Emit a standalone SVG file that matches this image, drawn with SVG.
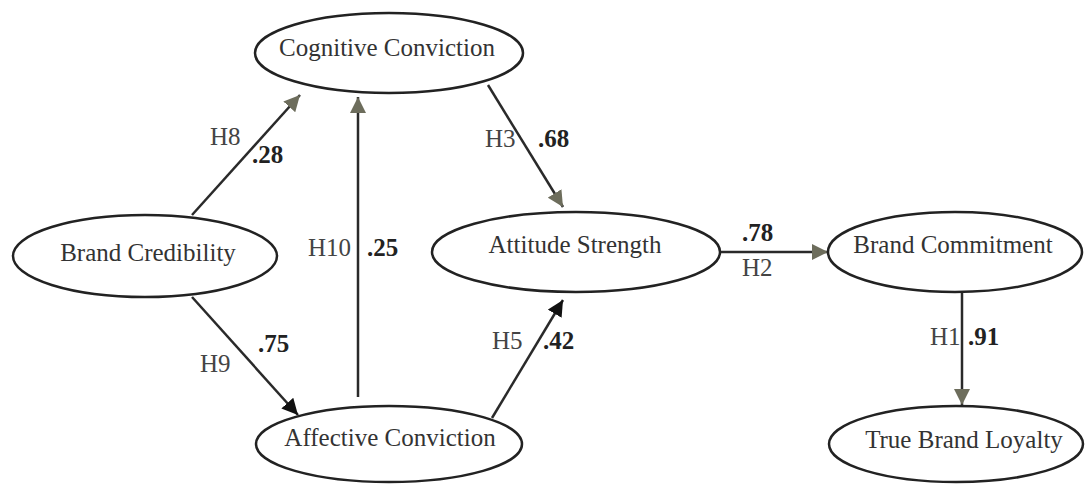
<svg xmlns="http://www.w3.org/2000/svg" width="1085" height="484" viewBox="0 0 1085 484">
<style>
.node ellipse{fill:#fff;stroke:#222;stroke-width:2.5}
.node text{font-family:"Liberation Serif","Times New Roman",serif;font-size:25px;fill:#333;text-anchor:middle}
.lbl{font-family:"Liberation Serif","Times New Roman",serif;font-size:25px;fill:#444}
.num{font-family:"Liberation Serif","Times New Roman",serif;font-size:25px;font-weight:bold;fill:#222}
.edge{stroke:#2a2a2a;stroke-width:2.5;fill:none}
.g{marker-end:url(#ag)}
.k{marker-end:url(#ak)}
</style>
<defs>
<marker id="ag" markerUnits="userSpaceOnUse" markerWidth="17" markerHeight="16" refX="16" refY="8" orient="auto">
<path d="M0,0 L16,8 L0,16 z" fill="#6d6d5c"/>
</marker>
<marker id="ak" markerUnits="userSpaceOnUse" markerWidth="17" markerHeight="16" refX="16" refY="8" orient="auto">
<path d="M0,0 L16,8 L0,16 z" fill="#111"/>
</marker>
</defs>
<rect width="1085" height="484" fill="#fff"/>
<g id="connectors">
<line class="edge g" x1="192" y1="215" x2="300" y2="95"/>
<line class="edge g" x1="358" y1="397" x2="358" y2="97"/>
<line class="edge g" x1="488" y1="85" x2="563" y2="207"/>
<line class="edge k" x1="192" y1="297" x2="298" y2="415"/>
<line class="edge k" x1="492" y1="418" x2="563" y2="300"/>
<line class="edge g" x1="720" y1="252" x2="828" y2="252"/>
<line class="edge g" x1="962" y1="292" x2="962" y2="405"/>
<text class="lbl" x="210" y="145">H8</text>
<text class="num" x="252" y="163">.28</text>
<text class="lbl" x="308" y="256">H10</text>
<text class="num" x="367" y="256">.25</text>
<text class="lbl" x="485" y="147">H3</text>
<text class="num" x="538" y="147">.68</text>
<text class="num" x="742" y="241">.78</text>
<text class="lbl" x="742" y="276">H2</text>
<text class="lbl" x="200" y="372">H9</text>
<text class="num" x="258" y="352">.75</text>
<text class="lbl" x="492" y="349">H5</text>
<text class="num" x="543" y="349">.42</text>
<text class="lbl" x="930" y="345">H1</text>
<text class="num" x="968" y="345">.91</text>
</g>
<g id="cognitive" class="node">
<ellipse cx="389" cy="53" rx="134" ry="40"/>
<text x="387" y="56">Cognitive Conviction</text>
</g>
<g id="credibility" class="node">
<ellipse cx="145" cy="256" rx="132" ry="41"/>
<text x="148" y="261">Brand Credibility</text>
</g>
<g id="attitude" class="node">
<ellipse cx="576" cy="252" rx="144" ry="40"/>
<text x="575" y="253">Attitude Strength</text>
</g>
<g id="commitment" class="node">
<ellipse cx="955" cy="252" rx="127" ry="40"/>
<text x="953" y="253">Brand Commitment</text>
</g>
<g id="affective" class="node">
<ellipse cx="389" cy="444" rx="133" ry="38"/>
<text x="390" y="446">Affective Conviction</text>
</g>
<g id="loyalty" class="node">
<ellipse cx="956" cy="444" rx="127" ry="38"/>
<text x="964" y="448">True Brand Loyalty</text>
</g>
</svg>
